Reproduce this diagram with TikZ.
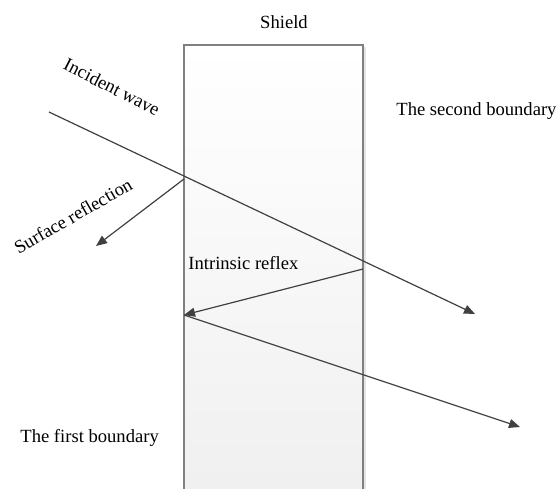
\documentclass[tikz,border=0pt]{standalone}
\usepackage{fontspec}
\setmainfont{Liberation Serif}
\usetikzlibrary{arrows.meta}
\definecolor{raycol}{HTML}{404040}
\definecolor{edgecol}{HTML}{808080}
\tikzset{
    ray/.style={draw=raycol, line width=0.6pt, -{Triangle[length=5.5pt, width=4.5pt]}},
    lbl/.style={font=\fontsize{9.3}{11}\selectfont, inner sep=0pt}
}

\begin{document}
\begin{tikzpicture}[x=0.5pt, y=-0.5pt]
    \useasboundingbox (0,0) rectangle (556,488);
    \clip (0,0) rectangle (556,488);

    % Draw shield
    \fill[gray!20] (364,47) rectangle (366,495);
    \shade[top color=white, bottom color=black!6] (184,45) rectangle (363,495);
    \draw[edgecol, line width=0.6pt] (184,495) -- (184,45) -- (363,45) -- (363,495);

    % Draw points
    \coordinate (inc) at (49,112);
    \coordinate (out1) at (475,314);
    \coordinate (hitA) at (184,179);
    \coordinate (surf) at (96,246);
    \coordinate (hitB) at (363,269);
    \coordinate (hitC) at (184,315);
    \coordinate (out2) at (520,427);

    % Draw rays
    \draw[ray] (inc) -- (out1);
    \draw[ray] (hitA) -- (surf);
    \draw[ray] (hitB) -- (hitC);
    \draw[ray] (hitC) -- (out2);

    % Labels
    \node[lbl] (shield) at (284,22) {Shield};
    \node[lbl, rotate=-27] (incident) at (112,87) {Incident wave};
    \node[lbl, rotate=30] (surface) at (73,216) {Surface reflection};
    \node[lbl, anchor=west] (intrinsic) at (188,263) {Intrinsic reflex};
    \node[lbl, anchor=west] (second) at (396,111) {The second boundary};
    \node[lbl, anchor=west] (first) at (20,438) {The first boundary};
\end{tikzpicture}
\end{document}
